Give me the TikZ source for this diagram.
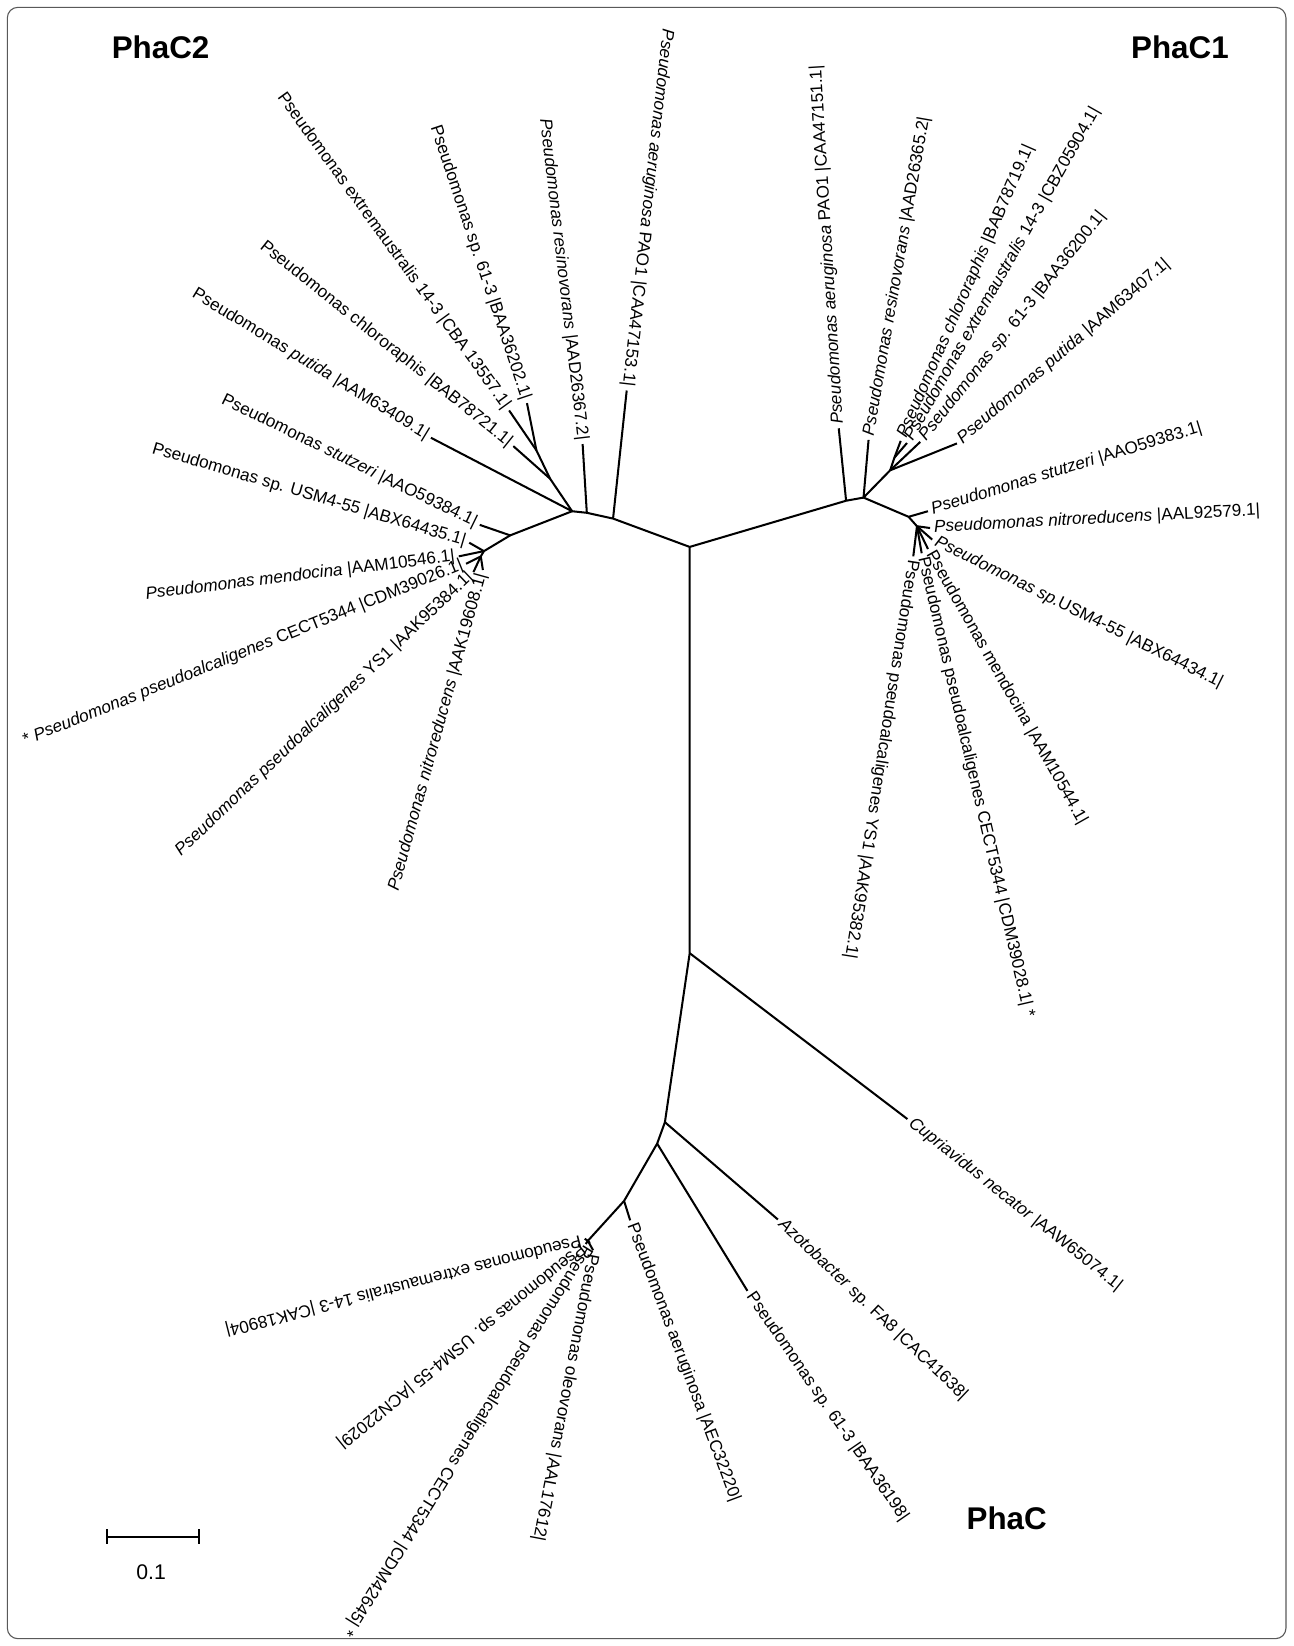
\documentclass[tikz,border=0pt]{standalone}
\usepackage{fontspec}
\setmainfont{Liberation Sans}
\usetikzlibrary{positioning}
\tikzset{
    branch/.style={line width=1.1pt,line join=round},
    leaf/.style={font=\fontsize{9.3}{11}\selectfont,inner xsep=2pt,inner ysep=1pt},
    outleaf/.style={leaf,anchor=west},
    inleaf/.style={leaf,anchor=east},
    clade/.style={font=\fontsize{17}{20}\selectfont\bfseries},
}
\newcommand{\spn}[1]{\textit{#1}}

\begin{document}
\begin{tikzpicture}[x=0.02cm,y=-0.02cm]
\useasboundingbox (0,0) rectangle (1232,1568);
\draw[black!65,line width=0.6pt,rounded corners=0.2cm] (7,7) rectangle (1225,1561);

% trunk
\coordinate (T) at (657,521);
\coordinate (B1) at (657,908);

% PhaC2 clade
\coordinate (A2) at (584,494);
\coordinate (A1) at (559,488.5);
\coordinate (A0) at (545,487);
\coordinate (A5) at (524,456);
\coordinate (A7) at (511,429);
\coordinate (A3) at (486,510);
\coordinate (A4) at (461,525);
\coordinate (A6) at (458,530);
\coordinate (c2pao) at (597,372);
\coordinate (c2res) at (555,423);
\coordinate (c2s61) at (502,384);
\coordinate (c2ext) at (485,391);
\coordinate (c2chl) at (489,425);
\coordinate (c2put) at (410.5,417);
\coordinate (c2stu) at (457,500);
\coordinate (c2usm) at (447,517);
\coordinate (c2men) at (437,530);
\coordinate (c2cec) at (444,537);
\coordinate (c2ys1) at (451,545);
\coordinate (c2nit) at (460,543);

% PhaC1 clade
\coordinate (C1) at (806,477);
\coordinate (C0) at (822.6,474);
\coordinate (C2) at (848,448);
\coordinate (C3) at (852,436);
\coordinate (C4) at (865.5,492.3);
\coordinate (C5) at (873.5,501.3);
\coordinate (c1pao) at (799,408);
\coordinate (c1res) at (827.4,419);
\coordinate (c1chl) at (858,420);
\coordinate (c1ext) at (864,422);
\coordinate (c1s61) at (876.6,421);
\coordinate (c1put) at (911.6,422.4);
\coordinate (c1stu) at (884,487);
\coordinate (c1nit) at (886,503);
\coordinate (c1usm) at (888,514);
\coordinate (c1men) at (884,523);
\coordinate (c1cec) at (878,527);
\coordinate (c1ys1) at (870,530);

% PhaC clade
\coordinate (B2) at (633.4,1069);
\coordinate (B3) at (626,1089.4);
\coordinate (B4) at (594.5,1144);
\coordinate (B5) at (560,1182);
\coordinate (c0cup) at (864.4,1066);
\coordinate (c0azo) at (741,1161.7);
\coordinate (c0s61) at (712,1229.7);
\coordinate (c0aer) at (600.3,1162.5);
\coordinate (c0ext) at (557,1180);
\coordinate (c0usm) at (558,1185);
\coordinate (c0cec) at (562,1184);
\coordinate (c0ole) at (565,1191);

% branches
\draw[branch] (A0) -- (A1) -- (A2) -- (T) -- (C1) -- (C0);
\draw[branch] (T) -- (B1) -- (B2) -- (B3) -- (B4) -- (B5);
\draw[branch] (A2) -- (c2pao);
\draw[branch] (A1) -- (c2res);
\draw[branch] (A0) -- (A5) -- (A7) -- (c2s61);
\draw[branch] (A7) -- (c2ext);
\draw[branch] (A5) -- (c2chl);
\draw[branch] (A0) -- (c2put);
\draw[branch] (A0) -- (A3) -- (c2stu);
\draw[branch] (A3) -- (A4) -- (c2usm);
\draw[branch] (A4) -- (c2men);
\draw[branch] (A4) -- (A6) -- (c2cec);
\draw[branch] (A6) -- (c2ys1);
\draw[branch] (A6) -- (c2nit);

\draw[branch] (C1) -- (c1pao);
\draw[branch] (C0) -- (c1res);
\draw[branch] (C0) -- (C2) -- (c1put);
\draw[branch] (C2) -- (c1s61);
\draw[branch] (C2) -- (C3) -- (c1chl);
\draw[branch] (C3) -- (c1ext);
\draw[branch] (C0) -- (C4) -- (c1stu);
\draw[branch] (C4) -- (C5) -- (c1nit);
\draw[branch] (C5) -- (c1usm);
\draw[branch] (C5) -- (c1men);
\draw[branch] (C5) -- (c1cec);
\draw[branch] (C5) -- (c1ys1);

\draw[branch] (B1) -- (c0cup);
\draw[branch] (B2) -- (c0azo);
\draw[branch] (B3) -- (c0s61);
\draw[branch] (B4) -- (c0aer);
\draw[branch] (B5) -- (c0ext);
\draw[branch] (B5) -- (c0usm);
\draw[branch] (B5) -- (c0cec);
\draw[branch] (B5) -- (c0ole);

% PhaC2 labels
\node[inleaf,rotate=-96.4] (l2pao) at (c2pao) {\spn{Pseudomonas aeruginosa} PAO1 |CAA47153.1|};
\node[inleaf,rotate=-83.3] (l2res) at (c2res) {\spn{Pseudomonas resinovorans} |AAD26367.2|};
\node[inleaf,rotate=-71.6] (l2s61) at (c2s61) {Pseudomonas sp. 61-3 |BAA36202.1|};
\node[inleaf,rotate=-54.1] (l2ext) at (c2ext) {Pseudomonas extremaustralis 14-3 |CBA 13557.1|};
\node[inleaf,rotate=-38.7] (l2chl) at (c2chl) {Pseudomonas chlororaphis |BAB78721.1|};
\node[inleaf,rotate=-31.4] (l2put) at (c2put) {Pseudomonas \spn{putida} |AAM63409.1|};
\node[inleaf,rotate=-26] (l2stu) at (c2stu) {Pseudomonas \spn{stutzeri} |AAO59384.1|};
\node[inleaf,rotate=-16.5] (l2usm) at (c2usm) {Pseudomonas sp. USM4-55 |ABX64435.1|};
\node[inleaf,rotate=7] (l2men) at (c2men) {\spn{Pseudomonas mendocina} |AAM10546.1|};
\node[inleaf,rotate=21.9] (l2cec) at (c2cec) {* \spn{Pseudomonas pseudoalcaligenes} CECT5344 |CDM39026.1|};
\node[inleaf,rotate=43.6] (l2ys1) at (c2ys1) {\spn{Pseudomonas pseudoalcaligenes} YS1 |AAK95384.1|};
\node[inleaf,rotate=74.5] (l2nit) at (c2nit) {\spn{Pseudomonas nitroreducens} |AAK19608.1|};

% PhaC1 labels
\node[outleaf,rotate=93.5] (l1pao) at (c1pao) {\spn{Pseudomonas aeruginosa} PAO1 |CAA47151.1|};
\node[outleaf,rotate=80.1] (l1res) at (c1res) {\spn{Pseudomonas resinovorans} |AAD26365.2|};
\node[outleaf,rotate=66.4] (l1chl) at (c1chl) {\spn{Pseudomonas chlororaphis} |BAB78719.1|};
\node[outleaf,rotate=60.5] (l1ext) at (c1ext) {\spn{Pseudomonas extremaustralis} 14-3 |CBZ05904.1|};
\node[outleaf,rotate=51.4] (l1s61) at (c1s61) {\spn{Pseudomonas sp.} 61-3 |BAA36200.1|};
\node[outleaf,rotate=40.7] (l1put) at (c1put) {\spn{Pseudomonas putida} |AAM63407.1|};
\node[outleaf,rotate=17] (l1stu) at (c1stu) {\spn{Pseudomonas stutzeri} |AAO59383.1|};
\node[outleaf,rotate=3] (l1nit) at (c1nit) {\spn{Pseudomonas nitroreducens} |AAL92579.1|};
\node[outleaf,rotate=-26.5] (l1usm) at (c1usm) {\spn{Pseudomonas sp.}USM4-55 |ABX64434.1|};
\node[outleaf,rotate=-60.5] (l1men) at (c1men) {Pseudomonas mendocina |AAM10544.1|};
\node[outleaf,rotate=-77] (l1cec) at (c1cec) {Pseudomonas pseudoalcaligenes CECT5344 |CDM39028.1| *};
\node[outleaf,rotate=-99] (l1ys1) at (c1ys1) {Pseudomonas pseudoalcaligenes YS1 |AAK95382.1|};

% PhaC labels
\node[outleaf,rotate=-38.4] (l0cup) at (c0cup) {\spn{Cupriavidus necator} |AAW65074.1|};
\node[outleaf,rotate=-43.6] (l0azo) at (c0azo) {\spn{Azotobacter} sp. FA8 |CAC41638|};
\node[outleaf,rotate=-55.5] (l0s61) at (c0s61) {Pseudomonas sp. 61-3 |BAA36198|};
\node[outleaf,rotate=-69.5] (l0aer) at (c0aer) {Pseudomonas aeruginosa |AEC32220|};
\node[outleaf,rotate=259.2] (l0ole) at (c0ole) {Pseudomonas oleovorans |AAL17612|};
\node[outleaf,rotate=238] (l0cec) at (c0cec) {Pseudomonas pseudoalcaligenes CECT5344 |CDM42645| *};
\node[outleaf,rotate=219.1] (l0usm) at (c0usm) {Pseudomonas sp. USM4-55 |ACN22029|};
\node[outleaf,rotate=194.3] (l0ext) at (c0ext) {Pseudomonas extremaustralis 14-3 |CAK18904|};

% clade titles
\node[clade] (phac2) at (153,45) {PhaC2};
\node[clade] (phac1) at (1124,45) {PhaC1};
\node[clade] (phac) at (959,1446) {PhaC};

% scale bar
\coordinate (sbl) at (102,1464);
\coordinate (sbr) at (190,1464);
\draw[branch] (sbl) -- (sbr);
\draw[branch] (102,1457) -- (102,1471);
\draw[branch] (190,1457) -- (190,1471);
\node[font=\fontsize{11.5}{13}\selectfont] (sblbl) at (144,1498) {0.1};
\end{tikzpicture}
\end{document}
